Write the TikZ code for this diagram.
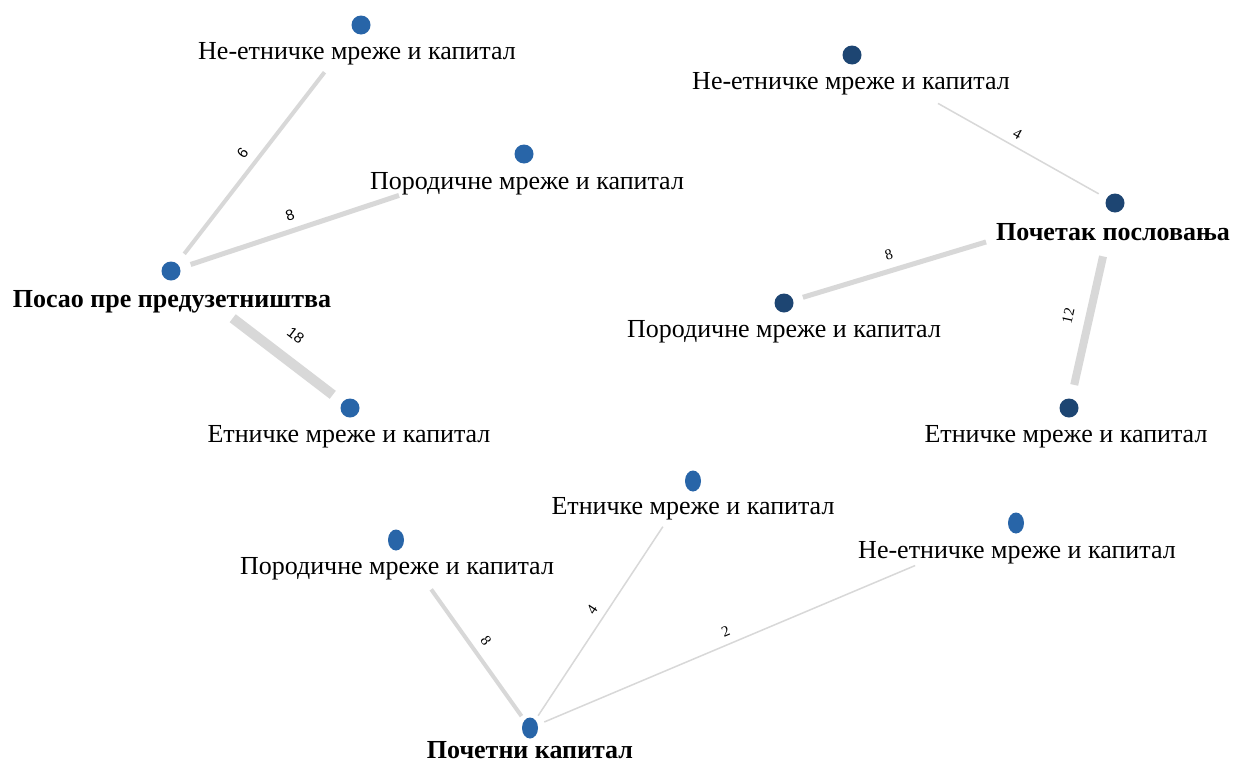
\documentclass[tikz,border=0pt]{standalone}
\usepackage{fontspec}
\setmainfont{Liberation Serif}
\newfontfamily\lsans{Liberation Sans}
\usetikzlibrary{shapes.geometric}
\definecolor{dotA}{RGB}{40,101,168}
\definecolor{dotB}{RGB}{29,69,114}
\definecolor{edgec}{RGB}{216,216,216}
\tikzset{
 dot/.style={circle, fill=dotA, minimum size=19pt, inner sep=0pt},
 ddot/.style={dot, fill=dotB},
 edot/.style={ellipse, fill=dotA, minimum width=16pt, minimum height=21pt, inner sep=0pt},
 lab/.style={font=\fontsize{26}{30}\selectfont, inner sep=0pt},
 blab/.style={font=\fontsize{26}{30}\selectfont\bfseries, inner sep=0pt},
 conn/.style={draw=edgec},
 elab/.style={font=\fontsize{15}{17}\selectfont, inner sep=0pt, sloped},
 selab/.style={elab, font=\fontsize{15}{17}\selectfont\lsans},
}
\begin{document}
\begin{tikzpicture}[x=1pt,y=-1pt]
\useasboundingbox[fill=white] (0,0) rectangle (1238,763);
% cluster 1
\node[dot] (A) at (171,271) {};
\node[dot] (B) at (361,25) {};
\node[dot] (C) at (524,154) {};
\node[dot] (D) at (350,408) {};
\node[blab] (Al) at (172,302) {Посао пре предузетништва};
\node[lab] (Bl) at (357,54) {Не-етничке мреже и капитал};
\node[lab] (Cl) at (527,184) {Породичне мреже и капитал};
\node[lab] (Dl) at (349,437) {Етничке мреже и капитал};
\draw[conn, line width=4pt, shorten <=12pt, shorten >=50pt] (A) -- node[selab, pos=0.437, above=8pt] {6} (B);
\draw[conn, line width=5pt, shorten <=11pt, shorten >=122pt] (A) -- node[selab, pos=0.343, above=8pt] {8} (C);
\draw[conn, line width=10pt, shorten <=68pt, shorten >=12pt] (A) -- node[selab, pos=0.625, above=14pt] {18} (D);
% cluster 2
\node[ddot] (E) at (1115,203) {};
\node[ddot] (F) at (852,55) {};
\node[ddot] (G) at (784,303) {};
\node[ddot] (H) at (1069,408) {};
\node[blab] (El) at (1113,232) {Почетак пословања};
\node[lab] (Fl) at (851,84) {Не-етничке мреже и капитал};
\node[lab] (Gl) at (784,332) {Породичне мреже и капитал};
\node[lab] (Hl) at (1066,437) {Етничке мреже и капитал};
\draw[conn, line width=1.5pt, shorten <=89pt, shorten >=9pt] (F) -- node[elab, pos=0.613, above=7pt] {4} (E);
\draw[conn, line width=5pt, shorten <=10pt, shorten >=125pt] (G) -- node[elab, pos=0.32, above=8pt] {8} (E);
\draw[conn, line width=8pt, shorten <=14pt, shorten >=45pt] (H) -- node[elab, pos=0.42, above=12pt] {12} (E);
% cluster 3
\node[edot] (I) at (530,728) {};
\node[edot] (J) at (396,540) {};
\node[edot] (K) at (693,481) {};
\node[edot] (L) at (1016,523) {};
\node[blab] (Il) at (530,750) {Почетни капитал};
\node[lab] (Jl) at (397,569) {Породичне мреже и капитал};
\node[lab] (Kl) at (693,509) {Етничке мреже и капитал};
\node[lab] (Ll) at (1017,553) {Не-етничке мреже и капитал};
\draw[conn, line width=4pt, shorten <=51pt, shorten >=5pt] (J) -- node[elab, pos=0.588, above=8pt] {8} (I);
\draw[conn, line width=1.5pt, shorten <=5pt, shorten >=45pt] (I) -- node[elab, pos=0.447, above=8pt] {4} (K);
\draw[conn, line width=1.5pt, shorten <=7pt, shorten >=101pt] (I) -- node[elab, pos=0.41, above=7pt] {2} (L);
\end{tikzpicture}
\end{document}
